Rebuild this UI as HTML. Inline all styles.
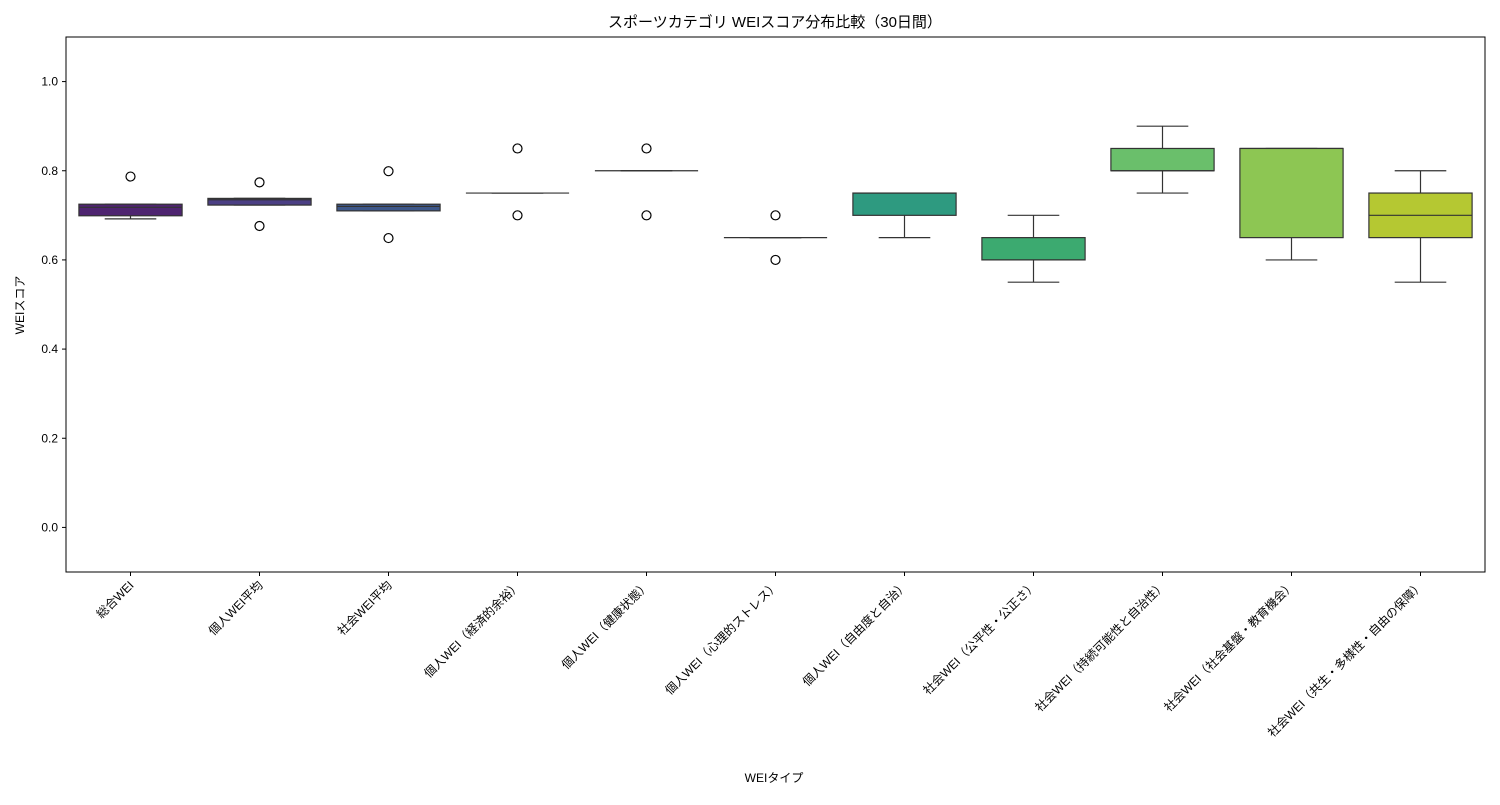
<!DOCTYPE html>
<html><head><meta charset="utf-8"><style>
body{margin:0;background:#fff;}
svg text{font-family:"Liberation Sans","Noto Sans CJK JP",sans-serif;fill:#000;}
</style></head><body>
<svg id="chart" width="1500" height="800">
<text x="775" y="27" text-anchor="middle" font-size="15">スポーツカテゴリ WEIスコア分布比較（30日間）</text>
<text x="774" y="782" text-anchor="middle" font-size="12">WEIタイプ</text>
<text transform="translate(24,305) rotate(-90)" text-anchor="middle" font-size="12">WEIスコア</text>
<g id="marks"></g>
<rect x="66" y="37" width="1419" height="535" fill="none" stroke="#000" stroke-width="1"/>
</svg>
<script>
const categories=["総合WEI","個人WEI平均","社会WEI平均","個人WEI（経済的余裕）","個人WEI（健康状態）","個人WEI（心理的ストレス）","個人WEI（自由度と自治）","社会WEI（公平性・公正さ）","社会WEI（持続可能性と自治性）","社会WEI（社会基盤・教育機会）","社会WEI（共生・多様性・自由の保障）"];
const whiskerLow=[0.692,0.723,0.71,0.75,0.80,0.65,0.65,0.55,0.75,0.60,0.55];
const q1=[0.699,0.723,0.71,0.75,0.80,0.65,0.70,0.60,0.80,0.65,0.65];
const median=[0.718,0.735,0.72,0.75,0.80,0.65,0.75,0.60,0.80,0.85,0.70];
const q3=[0.725,0.738,0.725,0.75,0.80,0.65,0.75,0.65,0.85,0.85,0.75];
const whiskerHigh=[0.725,0.738,0.725,0.75,0.80,0.65,0.75,0.70,0.90,0.85,0.80];
const outliers=[[0.787],[0.774,0.676],[0.799,0.649],[0.85,0.70],[0.85,0.70],[0.70,0.60],[],[],[],[],[]];
const yTicks=[0.0,0.2,0.4,0.6,0.8,1.0];
const colors=["#4e2470","#4b3f84","#3d5789","#34708c","#2b848b","#27968a","#2e9a80","#3caa70","#6abf6b","#8dc653","#b5c832"];
const X0=66,X1=1485,Y0=37,Y1=572,ymin=-0.1,ymax=1.1;
const ys=v=>Y1-(v-ymin)/(ymax-ymin)*(Y1-Y0);
const step=(X1-X0)/categories.length;
const xs=i=>X0+step*(i+0.5);
const NS="http://www.w3.org/2000/svg";
const g=document.getElementById('marks');
function mk(t,a){const e=document.createElementNS(NS,t);for(const k in a)e.setAttribute(k,a[k]);return e;}
yTicks.forEach(v=>{
 const y=ys(v);
 const t=mk('line',{x1:X0-4,x2:X0,y1:y,y2:y,stroke:'#000'});
 
 
 g.appendChild(t);
 const l=mk('text',{x:X0-8,y:y+4,'text-anchor':'end','font-size':12});
 
 
 l.textContent=v.toFixed(1);g.appendChild(l);
});
const bw=step*0.8;
categories.forEach((c,i)=>{
 const x=xs(i);
 const t=mk('line',{x1:x,x2:x,y1:Y1,y2:Y1+4,stroke:'#000'});
 
 
 g.appendChild(t);
 const l=mk('text',{transform:`translate(${x+4},${Y1+14}) rotate(-45)`,'text-anchor':'end','font-size':12});
 
 
 l.textContent=c;g.appendChild(l);
 const w1=mk('line',{x1:x,x2:x,y1:ys(whiskerLow[i]),y2:ys(q1[i]),stroke:'#333','stroke-width':1.2});
 
 
 g.appendChild(w1);
 const w2=mk('line',{x1:x,x2:x,y1:ys(q3[i]),y2:ys(whiskerHigh[i]),stroke:'#333','stroke-width':1.2});
 
 
 g.appendChild(w2);
 [whiskerLow[i],whiskerHigh[i]].forEach(v=>{
  const cap=mk('line',{x1:x-bw/4,x2:x+bw/4,y1:ys(v),y2:ys(v),stroke:'#333','stroke-width':1.2});
  
  
  g.appendChild(cap);
 });
 const b=mk('rect',{x:x-bw/2,y:ys(q3[i]),width:bw,height:Math.max(0,ys(q1[i])-ys(q3[i])),fill:colors[i],stroke:'#333','stroke-width':1.2});
 
 
 g.appendChild(b);
 const m=mk('line',{x1:x-bw/2,x2:x+bw/2,y1:ys(median[i]),y2:ys(median[i]),stroke:'#333','stroke-width':1.2});
 
 
 g.appendChild(m);
 outliers[i].forEach(v=>{
  const o=mk('circle',{cx:x,cy:ys(v),r:4.5,fill:'none',stroke:'#000','stroke-width':1.2});
  
  
  g.appendChild(o);
 });
});
</script>
</body></html>
